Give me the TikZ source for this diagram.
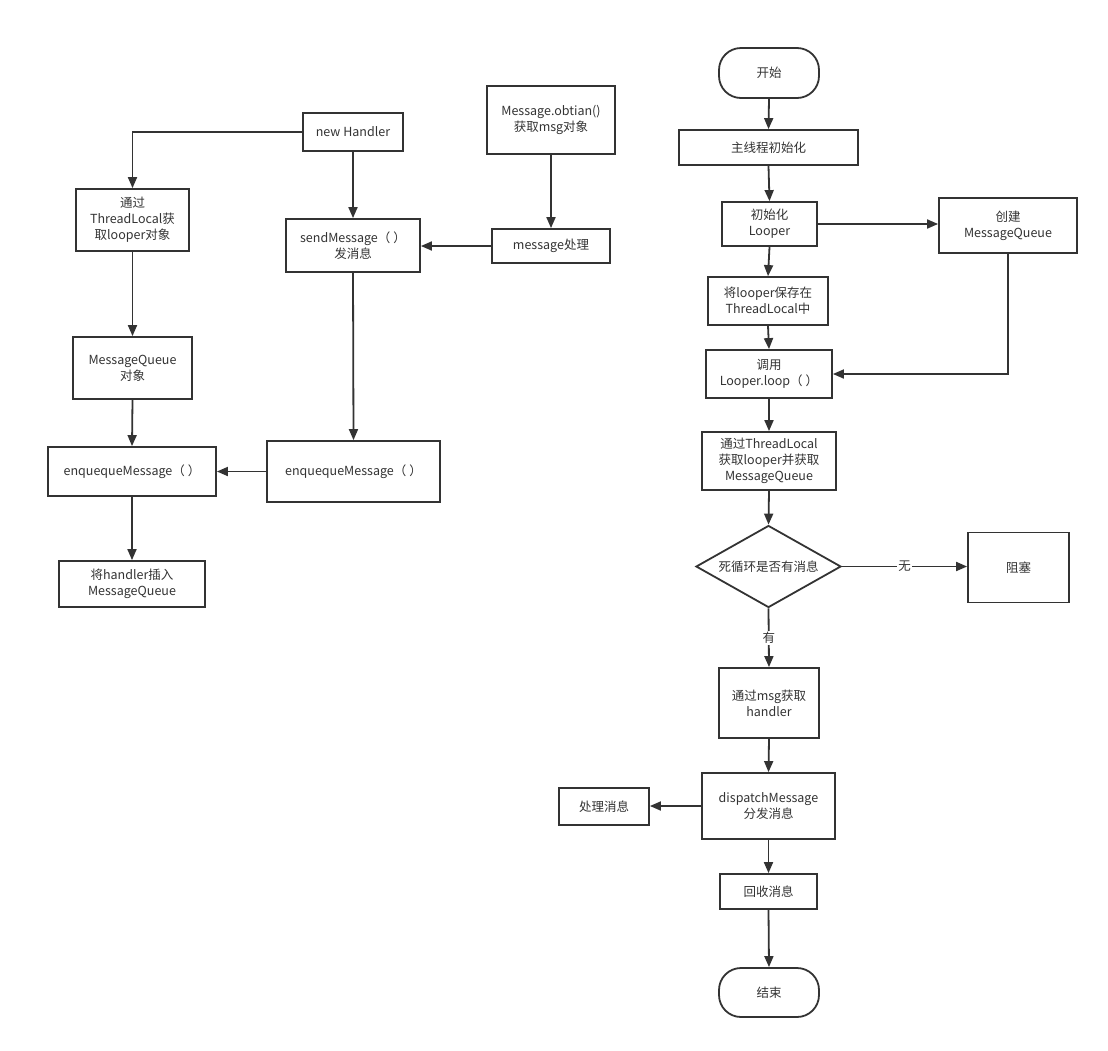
\documentclass[tikz,border=0pt]{standalone}
\usepackage{fontspec}
\setmainfont{Noto Sans CJK SC}
\usetikzlibrary{arrows.meta,shapes.geometric}
\definecolor{ln}{HTML}{333333}
\tikzset{
  box/.style={draw=ln, line width=1.8pt, inner sep=0pt, align=center, text=ln,
    font=\fontsize{12.5}{16}\selectfont},
  term/.style={box, rounded corners=22pt},
  dia/.style={box, diamond, aspect=1.77},
  arr/.style={draw=ln, line width=1.8pt, -{Triangle[length=11pt,width=9pt]}},
  lbl/.style={fill=white, inner sep=1pt, text=ln, font=\fontsize{12.5}{16}\selectfont}
}
\newcommand{\pp}{（\hspace{3pt}）}
\begin{document}
\begin{tikzpicture}[x=1pt,y=-1pt]
\useasboundingbox (0,0) rectangle (1108,1050);
% left part
\node[box, minimum width=100, minimum height=38] (nh) at (353,132) {new Handler};
\node[box, minimum width=113, minimum height=62] (tl) at (132.5,220) {通过\\ThreadLocal获\\取looper对象};
\node[box, minimum width=134, minimum height=53] (sm) at (353,245.5) {sendMessage\pp\\发消息};
\node[box, minimum width=128, minimum height=68] (mo) at (551,120) {Message.obtian()\\获取msg对象};
\node[box, minimum width=118, minimum height=34] (mp) at (551,246) {message处理};
\node[box, minimum width=119, minimum height=62] (mq) at (132.5,368) {MessageQueue\\对象};
\node[box, minimum width=168, minimum height=49] (el) at (132,471.5) {enquequeMessage\pp};
\node[box, minimum width=173, minimum height=61] (er) at (353.5,471.5) {enquequeMessage\pp};
\node[box, minimum width=146, minimum height=46] (ins) at (132,584) {将handler插入\\MessageQueue};
\draw[arr] (nh.west) -| (tl.north);
\draw[arr] (nh.south) -- (sm.north);
\draw[arr] (mo.south) -- (mp.north);
\draw[arr] (mp.west) -- (sm.east |- mp.west);
\draw[arr] (tl.south) -- (mq.north);
\draw[arr] (sm.south) -- (er.north);
\draw[arr] (mq.south) -- (el.north);
\draw[arr] (er.west) -- (el.east);
\draw[arr] (el.south) -- (ins.north);
% right part
\node[term, minimum width=100, minimum height=50] (st) at (769,73) {开始};
\node[box, minimum width=179, minimum height=35] (mi) at (768.5,147.5) {主线程初始化};
\node[box, minimum width=95, minimum height=44] (il) at (769.5,224) {初始化\\Looper};
\node[box, minimum width=138, minimum height=55] (cm) at (1008,225.5) {创建\\MessageQueue};
\node[box, minimum width=120, minimum height=48] (sv) at (768,301) {将looper保存在\\ThreadLocal中};
\node[box, minimum width=126, minimum height=48] (lp) at (769,374) {调用\\Looper.loop\pp};
\node[box, minimum width=134, minimum height=58] (gq) at (769,461) {通过ThreadLocal\\获取looper并获取\\MessageQueue};
\node[dia, minimum width=145, minimum height=82] (dc) at (768.5,566.5) {死循环是否有消息};
\node[box, minimum width=101, minimum height=70] (bk) at (1018.5,567.5) {阻塞};
\node[box, minimum width=100, minimum height=70] (gh) at (769,703) {通过msg获取\\handler};
\node[box, minimum width=133, minimum height=66] (dm) at (768.5,806) {dispatchMessage\\分发消息};
\node[box, minimum width=90, minimum height=37] (hm) at (604,806.5) {处理消息};
\node[box, minimum width=97, minimum height=35] (rc) at (768.5,891.5) {回收消息};
\node[term, minimum width=100, minimum height=49] (en) at (769,992.5) {结束};
\draw[arr] (st.south) -- (mi.north);
\draw[arr] (mi.south) -- (il.north);
\draw[arr] (il.east) -- (cm.west |- il.east);
\draw[arr] (il.south) -- (sv.north);
\draw[arr] (sv.south) -- (lp.north);
\draw[arr] (cm.south) |- (lp.east);
\draw[arr] (lp.south) -- (gq.north);
\draw[arr] (gq.south) -- (dc.north);
\draw[arr] (dc.east) -- node[lbl] {无} (bk.west |- dc.east);
\draw[arr] (dc.south) -- node[lbl] {有} (gh.north);
\draw[arr] (gh.south) -- (dm.north);
\draw[arr] (dm.west) -- (hm.east |- dm.west);
\draw[arr] (dm.south) -- (rc.north);
\draw[arr] (rc.south) -- (en.north);
\end{tikzpicture}
\end{document}
